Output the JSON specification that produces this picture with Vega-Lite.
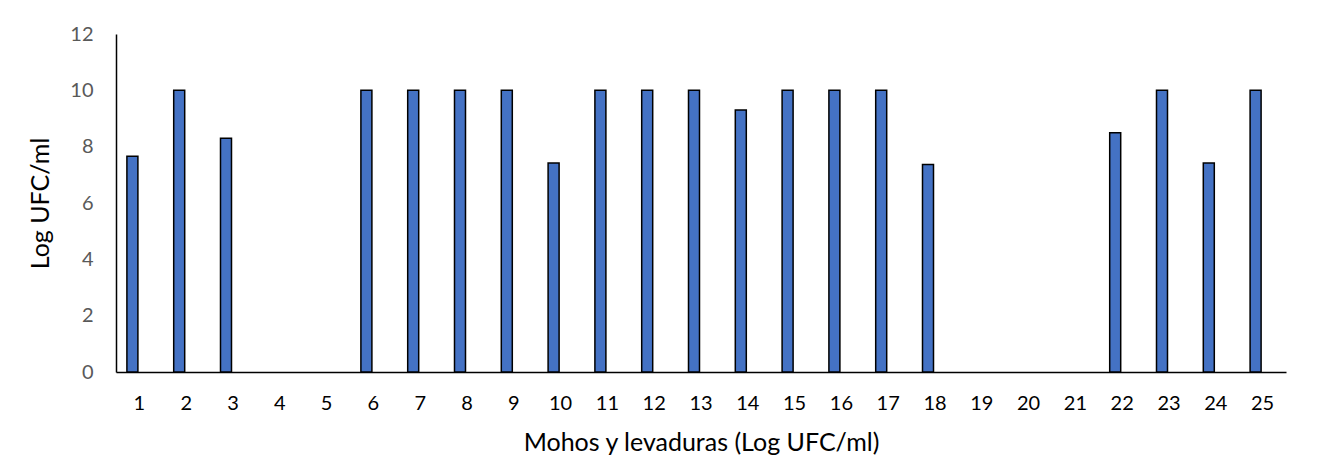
{
  "$schema": "https://vega.github.io/schema/vega-lite/v6.json",
  "autosize": {"type": "none"},
  "padding": {"left": 116, "top": 34, "right": 33, "bottom": 91},
  "width": 1170,
  "height": 338,
  "background": "white",
  "config": {"view": {"stroke": null}, "font": "Lato"},
  "data": {"values": [
    {"muestra": "1", "log": 7.66},
    {"muestra": "2", "log": 10},
    {"muestra": "3", "log": 8.3},
    {"muestra": "4", "log": 0},
    {"muestra": "5", "log": 0},
    {"muestra": "6", "log": 10},
    {"muestra": "7", "log": 10},
    {"muestra": "8", "log": 10},
    {"muestra": "9", "log": 10},
    {"muestra": "10", "log": 7.42},
    {"muestra": "11", "log": 10},
    {"muestra": "12", "log": 10},
    {"muestra": "13", "log": 10},
    {"muestra": "14", "log": 9.3},
    {"muestra": "15", "log": 10},
    {"muestra": "16", "log": 10},
    {"muestra": "17", "log": 10},
    {"muestra": "18", "log": 7.37},
    {"muestra": "19", "log": 0},
    {"muestra": "20", "log": 0},
    {"muestra": "21", "log": 0},
    {"muestra": "22", "log": 8.49},
    {"muestra": "23", "log": 10},
    {"muestra": "24", "log": 7.42},
    {"muestra": "25", "log": 10}
  ]},
  "mark": {"type": "bar", "width": 11, "xOffset": -7, "fill": "#4472C4", "stroke": "#000000", "strokeWidth": 1.5},
  "encoding": {
    "x": {
      "field": "muestra", "type": "ordinal", "sort": null,
      "scale": {"paddingInner": 0, "paddingOuter": 0},
      "axis": {
        "title": "Mohos y levaduras (Log UFC/ml)",
        "labelAngle": 0, "ticks": false, "domainColor": "#000000", "domainWidth": 1.5,
        "labelFontSize": 20, "labelColor": "#000000", "labelPadding": 21, "labelFont": "Lato",
        "titleFontSize": 25, "titleFontWeight": "normal", "titleColor": "#000000", "titlePadding": 17, "titleFont": "Lato"
      }
    },
    "y": {
      "field": "log", "type": "quantitative",
      "scale": {"domain": [0, 12], "nice": false},
      "axis": {
        "title": "Log UFC/ml", "values": [0, 2, 4, 6, 8, 10, 12],
        "grid": false, "ticks": false, "domainColor": "#000000", "domainWidth": 1.5,
        "labelFontSize": 20, "labelColor": "#595959", "labelPadding": 23, "labelFont": "Lato",
        "titleFontSize": 25, "titleFontWeight": "normal", "titleColor": "#000000", "titlePadding": 16, "titleFont": "Lato"
      }
    },
    "strokeOpacity": {"condition": {"test": "datum.log > 0", "value": 1}, "value": 0}
  }
}
